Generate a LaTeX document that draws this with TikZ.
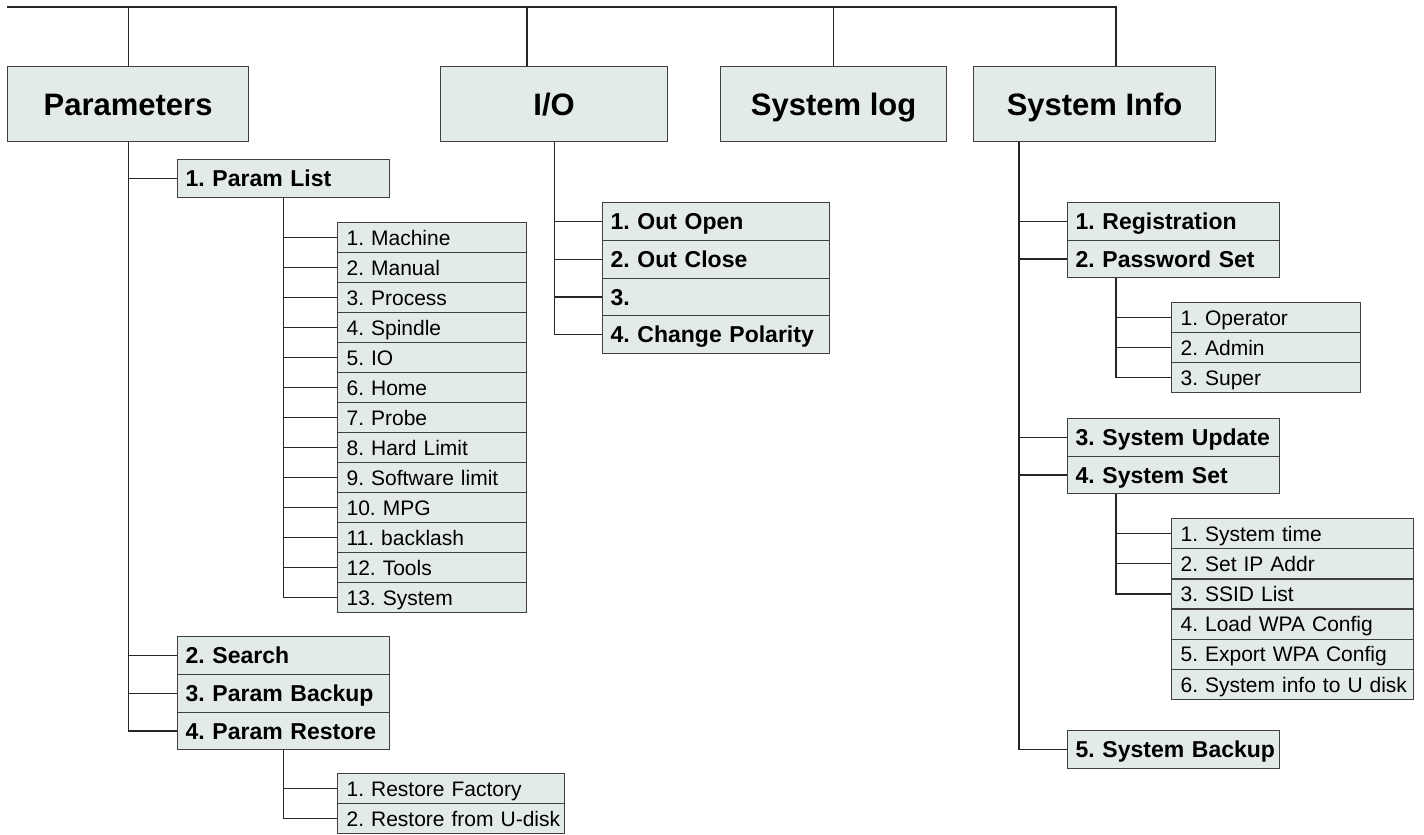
\documentclass[tikz,border=0pt]{standalone}
\usepackage{fontspec}
\setmainfont{Liberation Sans}
\usetikzlibrary{positioning}
\definecolor{menufill}{RGB}{226,235,229}
\definecolor{menuline}{RGB}{64,64,64}
\frenchspacing

\begin{document}
\begin{tikzpicture}[
    x=1pt, y=-1pt,
    menu/.style={rectangle, draw=menuline, fill=menufill, line width=1.2pt,
        inner sep=0pt, minimum height=75pt, anchor=north west,
        text height=22pt, text depth=0pt,
        font=\bfseries\fontsize{31}{31}\selectfont},
    item/.style={rectangle, draw=menuline, fill=menufill, line width=1.2pt,
        inner xsep=8pt, inner ysep=0pt, minimum height=37.75pt, anchor=north west,
        align=left, text width=#1, text height=16.5pt, text depth=0pt,
        font=\bfseries\fontsize{23}{23}\selectfont},
    subitem/.style={rectangle, draw=menuline, fill=menufill, line width=1.2pt,
        inner xsep=9pt, inner ysep=0pt, minimum height=30pt, anchor=north west,
        align=left, text width=#1, text height=15pt, text depth=0pt,
        font=\fontsize{21}{21}\selectfont},
    link/.style={draw=black!85, line width=1.2pt}
]
\useasboundingbox (0,0) rectangle (1424,835);

% top level menus
\node (params)  [menu, minimum width=241pt] at (7,66)   {Parameters};
\node (io)      [menu, minimum width=227pt] at (440,66) {I/O};
\node (syslog)  [menu, minimum width=226pt] at (720,66) {System log};
\node (sysinfo) [menu, minimum width=242pt] at (973,66) {System Info};

\coordinate (bus west) at (7,7);
\coordinate (bus east) at (1116,7);
\coordinate (io drop) at (527,7);
\draw[link] (bus west) -- (bus east) -- (sysinfo.north -| bus east);
\draw[link] (params.north |- bus west) -- (params.north);
\draw[link] (io drop) -- (io drop |- io.north);
\draw[link] (syslog.north |- bus west) -- (syslog.north);

% Parameters
\node (plist)    [item=196pt] at (177,159)    {\mbox{1. Param List}};
\node (search)   [item=196pt] at (177,636)    {\mbox{2. Search}};
\node (pbackup)  [item=196pt] at (177,673.75) {\mbox{3. Param Backup}};
\node (prestore) [item=196pt] at (177,711.5)  {\mbox{4. Param Restore}};
\foreach \n in {plist,search,pbackup,prestore}
  \draw[link] (params.south) |- (\n.west);

\foreach \txt [count=\i] in {1. Machine, 2. Manual, 3. Process, 4. Spindle,
    5. IO, 6. Home, 7. Probe, 8. Hard Limit, 9. Software limit, 10. MPG,
    11. backlash, 12. Tools, 13. System}
  \node (pl-\i) [subitem=171pt] at (337,{222+30*(\i-1)}) {\mbox{\txt}};
\foreach \i in {1,...,13}
  \draw[link] (plist.south) |- (pl-\i.west);

\foreach \txt [count=\i] in {1. Restore Factory, 2. Restore from U-disk}
  \node (rs-\i) [subitem=209pt] at (337,{773+30*(\i-1)}) {\mbox{\txt}};
\foreach \i in {1,2}
  \draw[link] (prestore.south) |- (rs-\i.west);

% I/O
\foreach \txt [count=\i] in {1. Out Open, 2. Out Close, 3., 4. Change Polarity}
  \node (io-\i) [item=211pt] at (602,{202+37.75*(\i-1)}) {\mbox{\txt}};
\foreach \i in {1,...,4}
  \draw[link] (io.south) |- (io-\i.west);

% System Info
\node (si-1) [item=196pt] at (1067,202)   {\mbox{1. Registration}};
\node (si-2) [item=196pt] at (1067,239.5) {\mbox{2. Password Set}};
\node (si-3) [item=196pt] at (1067,418)   {\mbox{3. System Update}};
\node (si-4) [item=196pt] at (1067,455.5) {\mbox{4. System Set}};
\node (si-5) [item=196pt] at (1067,730)   {\mbox{5. System Backup}};
\foreach \i in {1,...,5}
  \draw[link] ([xshift=46pt]sysinfo.south west) |- (si-\i.west);

\foreach \txt [count=\i] in {1. Operator, 2. Admin, 3. Super}
  \node (pw-\i) [subitem=171pt] at (1171,{302+30*(\i-1)}) {\mbox{\txt}};
\foreach \i in {1,...,3}
  \draw[link] ([xshift=49pt]si-2.south west) |- (pw-\i.west);

\foreach \txt [count=\i] in {1. System time, 2. Set IP Addr, 3. SSID List,
    4. Load WPA Config, 5. Export WPA Config, 6. System info to U disk}
  \node (ss-\i) [subitem=224pt] at (1171,{518+30.2*(\i-1)}) {\mbox{\txt}};
\foreach \i in {1,...,3}
  \draw[link] ([xshift=49pt]si-4.south west) |- (ss-\i.west);
\end{tikzpicture}
\end{document}
